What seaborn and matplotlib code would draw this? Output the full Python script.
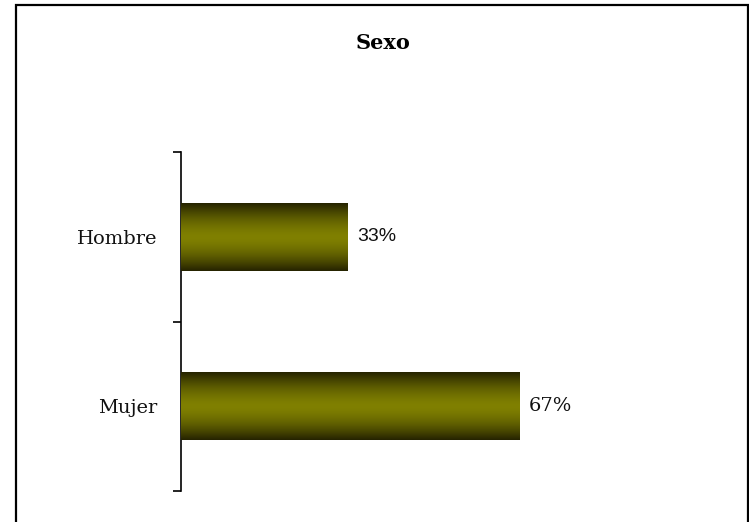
import numpy as np
import pandas as pd
import matplotlib
matplotlib.use("Agg")
import matplotlib.pyplot as plt
import seaborn as sns
from matplotlib.patches import Rectangle

categories = ["Hombre", "Mujer"]
values = [33, 67]
value_labels = ["33%", "67%"]
title = "Sexo"

sns.set_theme(style="white")
plt.rcParams['font.family'] = ['DejaVu Serif', 'DejaVu Sans']

label_fonts = [["Liberation Sans", "DejaVu Sans"], ["DejaVu Serif"]]

df = pd.DataFrame({"cat": categories, "val": values})

fig = plt.figure(figsize=(7.49, 5.22), dpi=100)
ax = fig.add_axes([181/749, 1-491/522, 505/749, (491-152)/522])

sns.barplot(data=df, x="val", y="cat", ax=ax, color="#808000", width=0.4,
            orient="h", saturation=1)

# gradient fill
olive = np.array([0x80, 0x80, 0x00]) / 255
dark = np.array([0x26, 0x24, 0x00]) / 255
n = 64
t = np.abs(np.linspace(-1, 1, n))
w = t ** 1.6
grad = olive[None, :] * (1 - w[:, None]) + dark[None, :] * w[:, None]
grad = grad[:, None, :]

for p, lab, fam in zip(ax.patches, value_labels, label_fonts):
    x0, y0 = p.get_x(), p.get_y()
    wdt, hgt = p.get_width(), p.get_height()
    p.set_edgecolor("none")
    im = ax.imshow(grad, extent=[x0, x0 + wdt, y0 + hgt, y0], aspect="auto",
                   interpolation="bilinear", zorder=3)
    im.set_clip_path(p)
    ax.text(x0 + wdt + 1.8, y0 + hgt / 2, lab, va="center", ha="left",
            fontsize=14, color="#111111", family=fam)

ax.set_xlim(0, 100)
ax.set_ylim(1.5, -0.5)
ax.set_xlabel("")
ax.set_ylabel("")
ax.set_xticks([])
for s in ["top", "right", "bottom"]:
    ax.spines[s].set_visible(False)
ax.spines["left"].set_color("black")
ax.spines["left"].set_linewidth(1.2)
ax.set_yticks([0, 1])
ax.set_yticklabels(categories, fontsize=14, color="#111111")
ax.set_yticks([-0.5, 0.5, 1.5], minor=True)
ax.tick_params(axis="y", which="major", length=0, pad=17)
ax.tick_params(axis="y", which="minor", length=6, width=1.2, color="black", left=True)

fig.text(383/749, 1-43/522, title, ha="center", va="center", fontsize=15,
         fontweight="bold", color="black")

fig.patches.append(Rectangle((16/749, -0.05), (748-16)/749, 1.05 - 5/522,
                             transform=fig.transFigure, fill=False,
                             edgecolor="black", linewidth=1.6))

fig.savefig("out.png", dpi=100)
